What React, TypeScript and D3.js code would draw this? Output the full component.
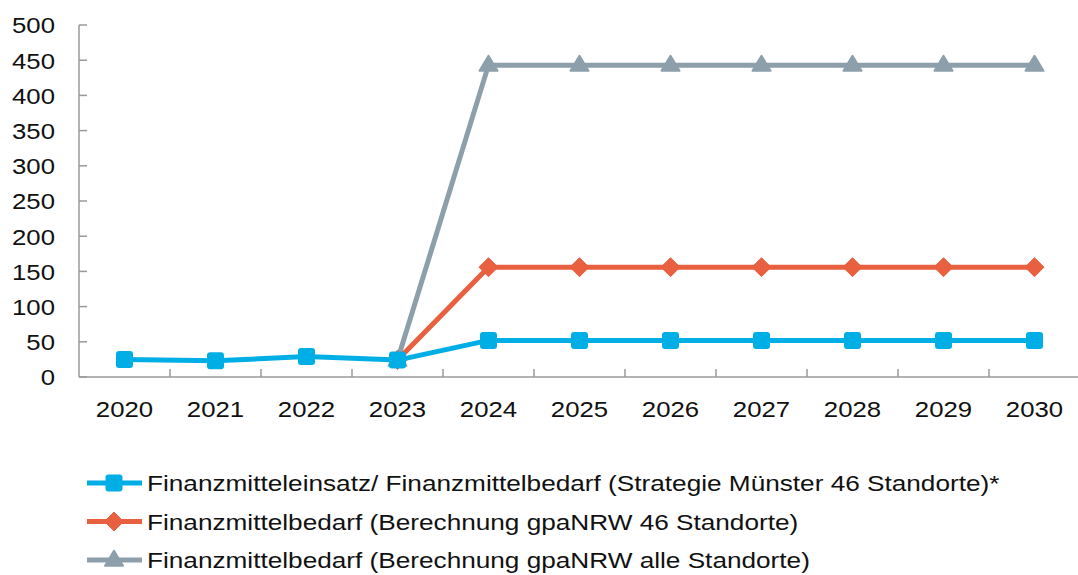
import React from "react";
import * as d3 from "d3";

const years = ["2020", "2021", "2022", "2023", "2024", "2025", "2026", "2027", "2028", "2029", "2030"];
const strategie = [25, 23, 29, 24, 52, 52, 52, 52, 52, 52, 52];
const gpa46 = [null, null, null, 24, 156, 156, 156, 156, 156, 156, 156];
const gpaAlle = [null, null, null, 24, 443, 443, 443, 443, 443, 443, 443];
const yTicks = [0, 50, 100, 150, 200, 250, 300, 350, 400, 450, 500];
const legendLabels = [
  "Finanzmitteleinsatz/ Finanzmittelbedarf (Strategie Münster 46 Standorte)*",
  "Finanzmittelbedarf (Berechnung gpaNRW 46 Standorte)",
  "Finanzmittelbedarf (Berechnung gpaNRW alle Standorte)",
];

const COLORS = ["#00AEE6", "#E8603F", "#8C9FAB"];
const SX = 1.12;
const SXL = 1.19;
const FONT = "'Liberation Sans', Arial, sans-serif";

function Marker({ type, x, y, color }: { type: number; x: number; y: number; color: string }) {
  if (type === 0) {
    return <rect x={x - 8.5} y={y - 8.5} width={17} height={17} rx={3} fill={color} />;
  }
  if (type === 1) {
    const s = 9.5;
    return <path d={`M${x},${y - s}L${x + s},${y}L${x},${y + s}L${x - s},${y}Z`} fill={color} stroke={color} strokeWidth={1} strokeLinejoin="round" />;
  }
  const h = 15;
  return (
    <path
      d={`M${x},${y - h * 0.62}L${x + 9},${y + h * 0.38}L${x - 9},${y + h * 0.38}Z`}
      fill={color}
      stroke={color}
      strokeWidth={2}
      strokeLinejoin="round"
    />
  );
}

export default function App() {
  const W = 1078, H = 575;
  const x = d3.scaleBand<string>().domain(years).range([79, 1080]);
  const y = d3.scaleLinear().domain([0, 500]).range([377, 25]);
  const cx = (yr: string) => (x(yr) as number) + x.bandwidth() / 2;
  const series = [strategie, gpa46, gpaAlle];
  const line = d3
    .line<number | null>()
    .defined((d) => d !== null)
    .x((_, i) => cx(years[i]))
    .y((d) => y(d as number));

  const order = [2, 1, 0];
  return (
    <svg width={W} height={H} style={{ display: "block", position: "absolute", left: 0, top: 0 }} fontFamily={FONT}>
      <rect width={W} height={H} fill="#fff" />
      <line x1={79} x2={79} y1={25} y2={377} stroke="#9a9a9a" strokeWidth={1.5} />
      <line x1={79} x2={1080} y1={377} y2={377} stroke="#9a9a9a" strokeWidth={1.5} />
      {yTicks.map((t) => (
        <g key={t}>
          <line x1={79} x2={87} y1={y(t)} y2={y(t)} stroke="#9a9a9a" strokeWidth={1.5} />
          <text transform={`translate(55,${y(t) + 8.3}) scale(${SX},1)`} textAnchor="end" fontSize={23} fill="#111">
            {t}
          </text>
        </g>
      ))}
      {years.map((yr, i) => (
        <g key={yr}>
          {i > 0 && (
            <line x1={x(yr) as number} x2={x(yr) as number} y1={369} y2={377} stroke="#9a9a9a" strokeWidth={1.5} />
          )}
          <text transform={`translate(${cx(yr)},416.5) scale(${SX},1)`} textAnchor="middle" fontSize={23} fill="#111">
            {yr}
          </text>
        </g>
      ))}
      {order.map((si) => (
        <g key={si}>
          <path d={line(series[si]) || ""} fill="none" stroke={COLORS[si]} strokeWidth={5} strokeLinejoin="round" />
          {series[si].map((v, i) =>
            v === null ? null : <Marker key={i} type={si} x={cx(years[i])} y={y(v)} color={COLORS[si]} />
          )}
        </g>
      ))}
      {legendLabels.map((lab, i) => {
        const ly = 483 + i * 38.5;
        return (
          <g key={i}>
            <line x1={87} x2={142} y1={ly} y2={ly} stroke={COLORS[i]} strokeWidth={5} />
            <Marker type={i} x={114} y={ly} color={COLORS[i]} />
            <text transform={`translate(147,${ly + 8}) scale(${SXL},1)`} fontSize={22} fill="#111">
              {lab}
            </text>
          </g>
        );
      })}
    </svg>
  );
}
